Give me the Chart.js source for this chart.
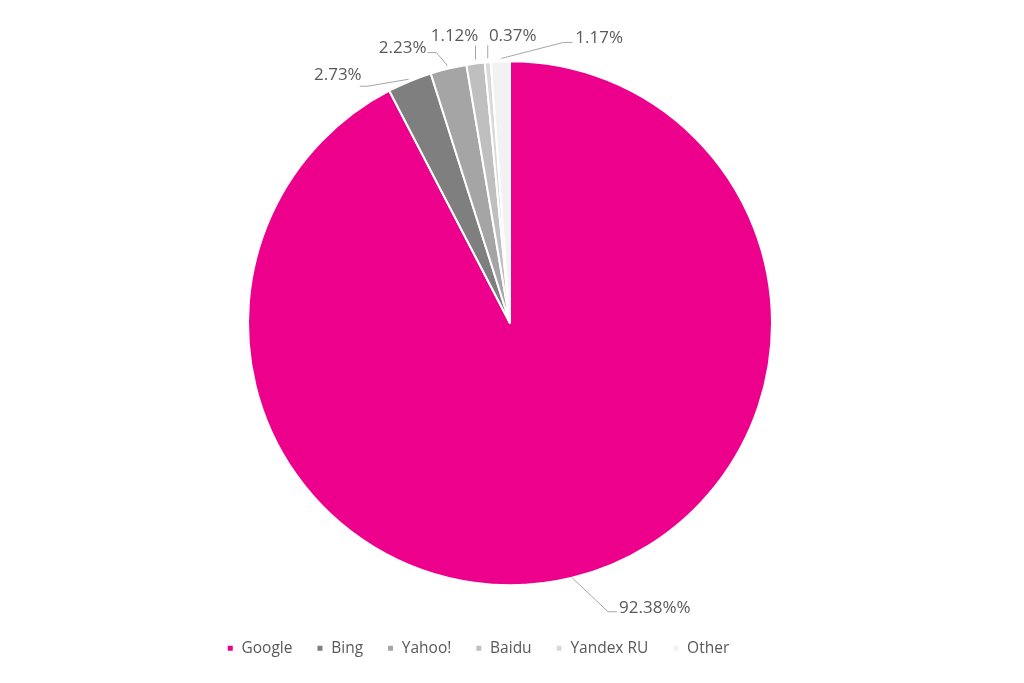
<!DOCTYPE html>
<html>
<head>
<meta charset="utf-8">
<script src="https://cdn.jsdelivr.net/npm/chart.js@4/dist/chart.umd.min.js"></script>
<style>
    html, body { margin: 0; padding: 0; background: #fff; }
    #wrap { width: 1024px; height: 683px; }
</style>
</head>
<body>
<div id="wrap"><canvas id="piePlot"></canvas></div>
<script>
// Data
const engines = ['Google', 'Bing', 'Yahoo!', 'Baidu', 'Yandex RU', 'Other']
const shares = [92.38, 2.73, 2.23, 1.12, 0.37, 1.17]
const shareLabels = ['92.38%%', '2.73%', '2.23%', '1.12%', '0.37%', '1.17%']
const sliceColors = ['#EC008C', '#7F7F7F', '#A5A5A5', '#BFBFBF', '#D9D9D9', '#F2F2F2']

// Where each data label sits, relative to the point on the slice edge
// leader: points of the leader line, text: [dx, dy, align]
const labelLayout = [
    { leader: [[0, 0], [36, 34], [45, 34]], text: [47, 30, 'left'] },
    { leader: [[-1, -2], [-42, 5], [-50, 5]], text: [-48, -6, 'right'] },
    { leader: [[-1, -3], [-12, -16], [-21, -16]], text: [-22, -20, 'right'] },
    { leader: [[0, -4], [0, -18]], text: [-21, -27, 'center'] },
    { leader: [[0, -4], [0, -17]], text: [25, -26, 'center'] },
    { leader: [[1, -3], [63, -19], [72, -19]], text: [75, -23, 'left'] }
]

const FONT = '"Open Sans", sans-serif'
const TEXT_COLOR = '#595959'
const LEGEND_SHIFT = -32

// Draw the labels with leader lines outside the pie
const outsideLabels = {
    id: 'outsideLabels',
    afterLayout (chart) {
        // legend sits a bit left of the pie in the original
        chart.legend.left += LEGEND_SHIFT
        chart.legend.right += LEGEND_SHIFT
    },
    afterDatasetsDraw (chart) {
        const ctx = chart.ctx
        const arcs = chart.getDatasetMeta(0).data
        ctx.save()
        arcs.forEach((arc, i) => {
            const p = arc.getProps(['x', 'y', 'startAngle', 'endAngle', 'outerRadius'], true)
            const mid = (p.startAngle + p.endAngle) / 2
            const ax = p.x + Math.cos(mid) * p.outerRadius
            const ay = p.y + Math.sin(mid) * p.outerRadius
            const lay = labelLayout[i]

            ctx.strokeStyle = '#A6A6A6'
            ctx.lineWidth = 1
            ctx.beginPath()
            lay.leader.forEach(([dx, dy], k) => {
                if (k === 0) ctx.moveTo(ax + dx, ay + dy)
                else ctx.lineTo(ax + dx, ay + dy)
            })
            ctx.stroke()

            ctx.fillStyle = TEXT_COLOR
            ctx.font = '17px ' + FONT
            ctx.textAlign = lay.text[2]
            ctx.textBaseline = 'middle'
            ctx.fillText(shareLabels[i], ax + lay.text[0], ay + lay.text[1])
        })
        ctx.restore()
    }
}

new Chart(document.getElementById('piePlot'), {
    type: 'pie',
    data: {
        labels: engines,
        datasets: [{
            data: shares,
            backgroundColor: sliceColors,
            borderColor: '#ffffff',
            borderWidth: 2,
            radius: 262
        }]
    },
    options: {
        responsive: true,
        maintainAspectRatio: false,
        animation: false,
        layout: {
            padding: { top: 30, bottom: 17, right: 4 }
        },
        plugins: {
            tooltip: { enabled: false },
            legend: {
                position: 'bottom',
                labels: {
                    boxWidth: 7,
                    boxHeight: 7,
                    padding: 24,
                    color: TEXT_COLOR,
                    font: { family: FONT, size: 15.5 }
                }
            }
        }
    },
    plugins: [outsideLabels]
})
</script>
</body>
</html>
